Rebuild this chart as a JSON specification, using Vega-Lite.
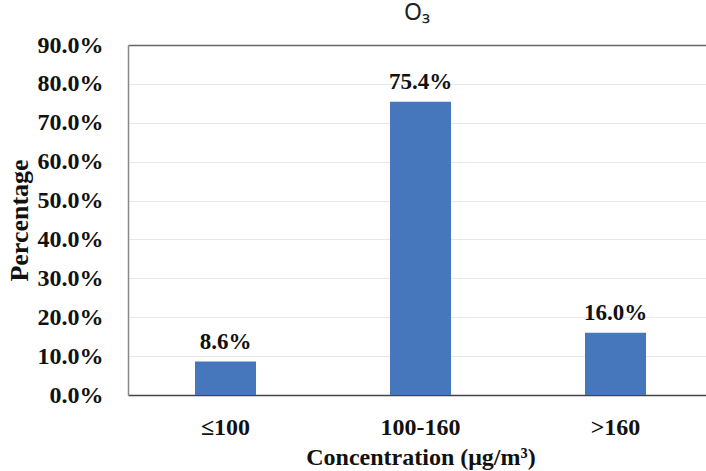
{
  "$schema": "https://vega.github.io/schema/vega-lite/v6.json",
  "autosize": {"type": "none"},
  "padding": {"left": 128, "top": 45, "right": 0, "bottom": 76},
  "width": 578,
  "height": 350,
  "background": "white",
  "config": {
    "view": {"stroke": null},
    "font": "Liberation Serif"
  },
  "title": {
    "text": "O₃",
    "font": "Noto Sans",
    "fontSize": 23,
    "fontWeight": "normal",
    "color": "#222",
    "offset": 8
  },
  "data": {
    "values": [
      {"category": "≤100", "value": 0.086, "label": "8.6%"},
      {"category": "100-160", "value": 0.754, "label": "75.4%"},
      {"category": ">160", "value": 0.16, "label": "16.0%"}
    ]
  },
  "encoding": {
    "x": {
      "field": "category",
      "type": "nominal",
      "sort": null,
      "title": "Concentration (μg/m³)",
      "scale": {"range": [0, 585], "paddingInner": 0.687, "paddingOuter": 0.3435},
      "axis": {
        "labelAngle": 0,
        "labelFont": "Liberation Serif",
        "labelFontSize": 24,
        "labelFontWeight": "bold",
        "labelColor": "#111",
        "labelPadding": 20,
        "ticks": false,
        "domainColor": "#444",
        "domainWidth": 1.5,
        "titleFont": "Liberation Serif",
        "titleFontSize": 24,
        "titleFontWeight": "bold",
        "titleColor": "#111",
        "titlePadding": 6,
        "titleAnchor": "middle"
      }
    },
    "y": {
      "field": "value",
      "type": "quantitative",
      "title": "Percentage",
      "scale": {"domain": [0, 0.9], "nice": false},
      "axis": {
        "values": [0, 0.1, 0.2, 0.3, 0.4, 0.5, 0.6, 0.7, 0.8, 0.9],
        "format": ".1%",
        "labelFont": "Liberation Serif",
        "labelFontSize": 24,
        "labelFontWeight": "bold",
        "labelColor": "#111",
        "labelPadding": 25,
        "ticks": false,
        "domainColor": "#888",
        "domainWidth": 1.5,
        "grid": true,
        "gridColor": {"condition": {"test": "datum.value >= 0.9", "value": "#666"}, "value": "#e8e8e8"},
        "gridWidth": {"condition": {"test": "datum.value >= 0.9", "value": 1.5}, "value": 1},
        "titleFont": "Liberation Serif",
        "titleFontSize": 26,
        "titleFontWeight": "bold",
        "titleColor": "#111",
        "titlePadding": 5
      }
    }
  },
  "layer": [
    {"mark": {"type": "bar", "color": "#4677BD"}},
    {
      "mark": {"type": "text", "dy": -20, "font": "Liberation Serif", "fontSize": 23, "fontWeight": "bold", "color": "#111"},
      "encoding": {"text": {"field": "label"}}
    }
  ]
}
